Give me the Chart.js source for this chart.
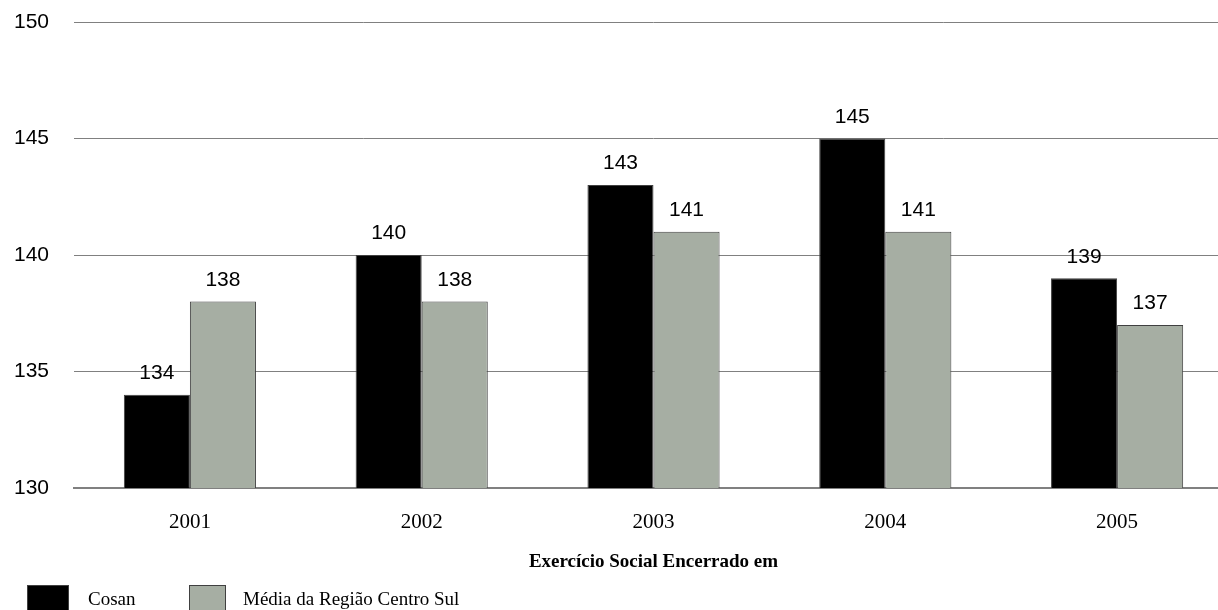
<!DOCTYPE html>
<html>
<head>
<meta charset="utf-8">
<script src="https://cdn.jsdelivr.net/npm/chart.js@4/dist/chart.umd.min.js"></script>
<style>
  html, body { margin: 0; padding: 0; background: #fff; overflow: hidden; }
  /* the plot area runs a little past the right edge of the window, as in the original */
  #wrap { width: 1233px; height: 610px; position: relative; }
</style>
</head>
<body>
<div id="wrap"><canvas id="chart"></canvas></div>
<script>
// chart data
const years = ['2001', '2002', '2003', '2004', '2005'];
const cosan = [134, 140, 143, 145, 139];
const mediaCentroSul = [138, 138, 141, 141, 137];
const yTicks = [130, 135, 140, 145, 150];

const SANS = 'Arial, "Liberation Sans", sans-serif';
const SERIF = '"Times New Roman", "Liberation Serif", serif';

// value labels above each bar
const valueLabels = {
    id: 'valueLabels',
    afterDatasetsDraw(chart) {
        const ctx = chart.ctx;
        ctx.save();
        ctx.font = '21px ' + SANS;
        ctx.fillStyle = '#000';
        ctx.textAlign = 'center';
        ctx.textBaseline = 'bottom';
        chart.data.datasets.forEach((ds, i) => {
            chart.getDatasetMeta(i).data.forEach((bar, j) => {
                ctx.fillText(ds.data[j], bar.x, bar.y - 11);
            });
        });
        ctx.restore();
    }
};

// legend in the bottom-left corner
const bottomLegend = {
    id: 'bottomLegend',
    afterDraw(chart) {
        const ctx = chart.ctx;
        const items = [
            { label: 'Cosan', fill: '#000000', x: 27, w: 42, textX: 88 },
            { label: 'Média da Região Centro Sul', fill: '#a6aea3', x: 189, w: 37, textX: 243 }
        ];
        ctx.save();
        items.forEach(it => {
            ctx.fillStyle = it.fill;
            ctx.fillRect(it.x, 585, it.w, 26);
            ctx.strokeStyle = '#404040';
            ctx.lineWidth = 1;
            ctx.strokeRect(it.x + 0.5, 585.5, it.w - 1, 26);
            ctx.fillStyle = '#000';
            ctx.font = '19px ' + SERIF;
            ctx.textAlign = 'left';
            ctx.textBaseline = 'alphabetic';
            ctx.fillText(it.label, it.textX, 605);
        });
        ctx.restore();
    }
};

new Chart(document.getElementById('chart'), {
    type: 'bar',
    data: {
        labels: years,
        datasets: [
            {
                label: 'Cosan',
                data: cosan,
                backgroundColor: '#000000',
                borderColor: '#404040',
                borderWidth: 1
            },
            {
                label: 'Média da Região Centro Sul',
                data: mediaCentroSul,
                backgroundColor: '#a6aea3',
                borderColor: '#404040',
                borderWidth: 1
            }
        ]
    },
    options: {
        responsive: true,
        maintainAspectRatio: false,
        animation: false,
        layout: { padding: { left: 14, right: 0, top: 22, bottom: 37 } },
        datasets: {
            bar: { categoryPercentage: 0.57, barPercentage: 1.0 }
        },
        scales: {
            x: {
                grid: { display: false },
                border: { display: true, color: '#808080', width: 2 },
                ticks: {
                    font: { family: SERIF, size: 21 },
                    color: '#000',
                    padding: 14
                },
                title: {
                    display: true,
                    text: 'Exercício Social Encerrado em',
                    font: { family: SERIF, size: 19, weight: 'bold' },
                    color: '#000',
                    padding: { top: 4, bottom: 0 }
                },
                afterFit(scale) { scale.height = 85; }
            },
            y: {
                min: 130,
                max: 150,
                afterBuildTicks(scale) { scale.ticks = yTicks.map(v => ({ value: v })); },
                grid: { color: '#808080', drawTicks: false },
                border: { display: false },
                ticks: {
                    font: { family: SANS, size: 21 },
                    color: '#000',
                    crossAlign: 'far'
                },
                afterFit(scale) { scale.width = 60; }
            }
        },
        plugins: {
            legend: { display: false },
            tooltip: { enabled: false }
        }
    },
    plugins: [valueLabels, bottomLegend]
});
</script>
</body>
</html>
